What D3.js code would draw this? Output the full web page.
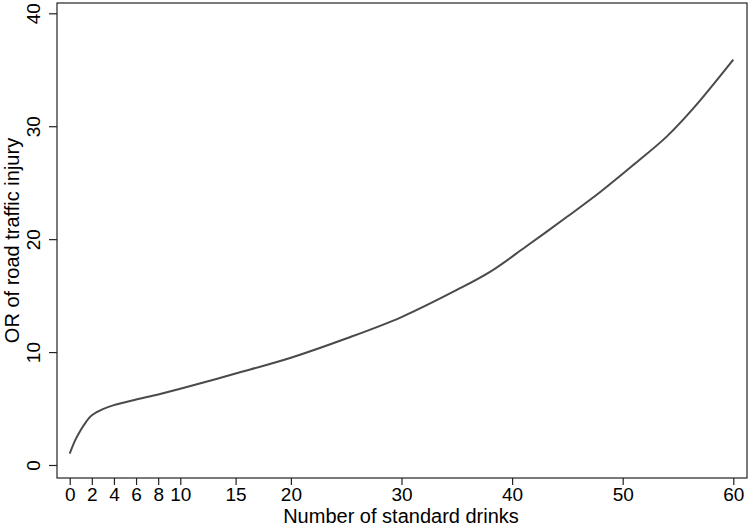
<!DOCTYPE html>
<html>
<head>
<meta charset="utf-8">
<script src="https://cdn.jsdelivr.net/npm/d3@7"></script>
<style>
  body { margin: 0; background: #fff; }
  text { font-family: "Liberation Sans", Arial, sans-serif; fill: #000; }
</style>
</head>
<body>
<div id="chart"></div>
<script>
(function() {
  // data
  var drinks = [0, 0.5, 1, 1.5, 2, 3, 4, 6, 8, 10, 15, 20, 25, 30, 35, 38, 41.2, 45, 48, 51, 54, 56.4, 60];
  var oddsRatio = [1.0, 2.2, 3.1, 3.85, 4.4, 4.95, 5.3, 5.8, 6.25, 6.75, 8.1, 9.5, 11.2, 13.1, 15.5, 17.1, 19.3, 22.0, 24.2, 26.6, 29.1, 31.6, 35.9];
  var xTicks = [0, 2, 4, 6, 8, 10, 15, 20, 30, 40, 50, 60];
  var yTicks = [0, 10, 20, 30, 40];

  const width = 750;
  const height = 529;
  var frame = { left: 57, top: 3, right: 747, bottom: 478 };

  var svg = d3.select("#chart")
    .append("svg")
    .attr("width", width)
    .attr("height", height);

  var x = d3.scaleLinear().domain([0, 60]).range([69.7, 733.3]);
  var y = d3.scaleLinear().domain([0, 40]).range([465, 13.3]);

  // plot region outline
  svg.append("rect")
    .attr("x", frame.left)
    .attr("y", frame.top)
    .attr("width", frame.right - frame.left)
    .attr("height", frame.bottom - frame.top)
    .attr("fill", "none")
    .attr("stroke", "#222")
    .attr("stroke-width", 1.2);

  var xAxis = svg.append("g")
    .attr("transform", "translate(0," + frame.bottom + ")")
    .call(d3.axisBottom(x).tickValues(xTicks).tickSize(7).tickPadding(3).tickSizeOuter(0));
  xAxis.select(".domain").remove();
  xAxis.selectAll("line").attr("stroke", "#222").attr("stroke-width", 1.2);
  xAxis.selectAll("text").style("font-size", "19px").attr("fill", "#000");

  var yAxis = svg.append("g")
    .attr("transform", "translate(" + frame.left + ",0)")
    .call(d3.axisLeft(y).tickValues(yTicks).tickSize(8).tickSizeOuter(0));
  yAxis.select(".domain").remove();
  yAxis.selectAll("line").attr("stroke", "#222").attr("stroke-width", 1.2);
  yAxis.selectAll("text")
    .style("font-size", "19px")
    .attr("fill", "#000")
    .attr("x", null)
    .attr("dy", null)
    .attr("text-anchor", "middle")
    .attr("transform", "translate(-17,0) rotate(-90)");

  svg.append("text")
    .attr("x", 401)
    .attr("y", 523)
    .attr("text-anchor", "middle")
    .style("font-size", "20px")
    .text("Number of standard drinks");

  svg.append("text")
    .attr("transform", "translate(19," + ((frame.top + frame.bottom) / 2) + ") rotate(-90)")
    .attr("text-anchor", "middle")
    .style("font-size", "20px")
    .text("OR of road traffic injury");

  var points = drinks.map(function(d, i) { return [d, oddsRatio[i]]; });
  var line = d3.line()
    .x(function(d) { return x(d[0]); })
    .y(function(d) { return y(d[1]); })
    .curve(d3.curveCatmullRom.alpha(0.5));

  svg.append("path")
    .datum(points)
    .attr("fill", "none")
    .attr("stroke", "#4a4a4a")
    .attr("stroke-width", 2)
    .attr("d", line);
}());
</script>
</body>
</html>
